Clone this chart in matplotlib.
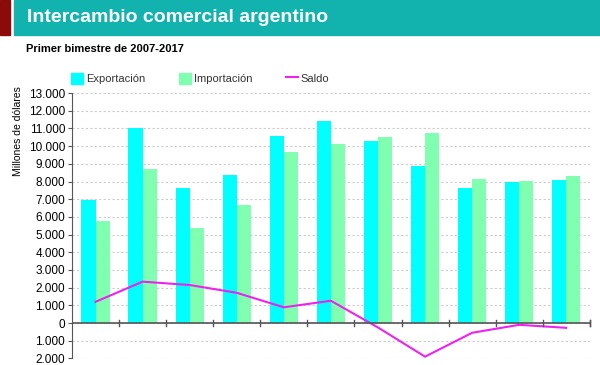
import numpy as np
import matplotlib.pyplot as plt
from matplotlib.patches import Rectangle
from matplotlib.lines import Line2D
from matplotlib.ticker import FuncFormatter

plt.rcParams['font.family'] = ['Liberation Sans', 'DejaVu Sans']

years = [2007, 2008, 2009, 2010, 2011, 2012, 2013, 2014, 2015, 2016, 2017]
exportacion = [6950, 11000, 7650, 8350, 10600, 11400, 10300, 8900, 7650, 8000, 8100]
importacion = [5750, 8700, 5400, 6650, 9650, 10100, 10500, 10750, 8150, 8050, 8300]
saldo = [1200, 2340, 2150, 1710, 890, 1260, -250, -1900, -550, -100, -270]

teal = '#12b3af'
cyan = '#00ffff'
green = '#80ffb0'
magenta = '#ee22ee'

fig = plt.figure(figsize=(6, 3.65), dpi=100)

# header band
fig.patches.append(Rectangle((0, 0.905), 0.017, 0.095, transform=fig.transFigure,
                             color='#8b0a0a', zorder=0))
fig.patches.append(Rectangle((0.023, 0.905), 0.977, 0.095, transform=fig.transFigure,
                             color=teal, zorder=0))
fig.text(0.045, 0.952, 'Intercambio comercial argentino', color='white',
         fontsize=14, fontweight='bold', va='center', ha='left')
fig.text(0.043, 0.866, 'Primer bimestre de 2007-2017', color='black',
         fontsize=8, fontweight='bold', va='center', ha='left')

ax = fig.add_axes([0.12, 0.018, 0.863, 0.727])
x = np.arange(len(years))
w = 0.3
ax.bar(x - w / 2, exportacion, width=w, color=cyan, zorder=2)
ax.bar(x + w / 2, importacion, width=w, color=green, zorder=2)
ax.plot(x, saldo, color=magenta, lw=1.5, zorder=3)

ax.set_xlim(-0.5, len(years) - 0.5)
ax.set_ylim(-2000, 13000)
ax.set_yticks(np.arange(-2000, 13001, 1000))
ax.yaxis.set_major_formatter(FuncFormatter(
    lambda v, p: '0' if v == 0 else f'{abs(int(v)):,}'.replace(',', '.')))
ax.tick_params(axis='y', labelsize=8.5, length=3, color='#555555', pad=2)
ax.set_xticks([])
ax.grid(axis='y', ls=(0, (2, 2)), color='#cccccc', lw=0.8, zorder=0)
for s in ['top', 'right', 'bottom']:
    ax.spines[s].set_visible(False)
ax.spines['left'].set_color('#555555')
ax.axhline(0, color='#555555', lw=1.2, zorder=4)
for b in np.arange(0.5, len(years), 1.0):
    ax.plot([b, b], [-150, 150], color='#555555', lw=1, zorder=4, clip_on=False)
ax.plot([len(years) - 0.5] * 2, [-150, 150], color='#555555', lw=1, zorder=4, clip_on=False)

fig.text(0.03, 0.64, 'Millones de dólares', rotation=90, fontsize=7.5,
         va='center', ha='center')

handles = [Rectangle((0, 0), 1, 1, color=cyan),
           Rectangle((0, 0), 1, 1, color=green),
           Line2D([0], [0], color=magenta, lw=1.5)]
fig.legend(handles, ['Exportación', 'Importación', 'Saldo'], ncol=3,
           loc='center left', bbox_to_anchor=(0.102, 0.785), frameon=False,
           fontsize=8, handlelength=1.1, handleheight=1.1, handletextpad=0.25,
           columnspacing=3.0, labelcolor='#333333')

fig.savefig('out.png', dpi=100)
